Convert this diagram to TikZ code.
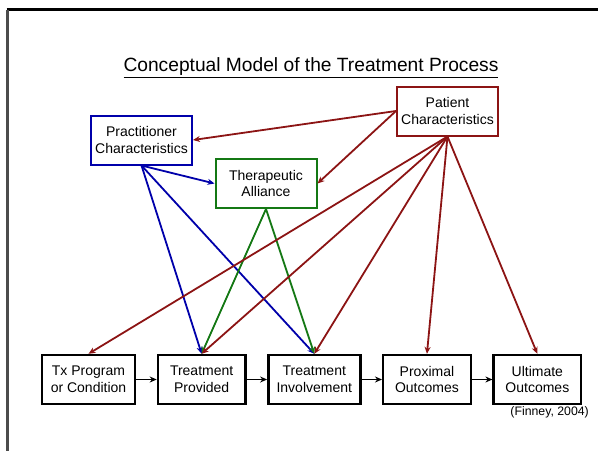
\documentclass[tikz,border=0pt]{standalone}
\usepackage{fontspec}
\setmainfont{Liberation Sans}
\usepackage{xcolor}
\usepackage{tikz}
\usetikzlibrary{positioning, arrows.meta, calc}
\definecolor{patColor}{RGB}{140,20,20}
\definecolor{pracColor}{RGB}{0,0,170}
\definecolor{allyColor}{RGB}{20,120,20}
\tikzset{
    stagebox/.style={
        rectangle,
        draw,
        line width=2.4pt,
        fill=white,
        minimum height=49pt,
        inner sep=2pt,
        align=center,
        font=\fontsize{14}{16.7}\selectfont
    },
    topbox/.style={
        stagebox,
        line width=2pt,
        minimum width=101pt
    },
    arr/.style={
        -{Stealth[length=7pt,width=6pt]},
        line width=1.8pt
    }
}

\begin{document}
\begin{tikzpicture}[x=1pt, y=-1pt, node distance=20.5pt]
        \useasboundingbox (0,0) rectangle (598,451);
        \draw[line width=2.2pt] (6.5,9.5) -- (598,9.5);
        \draw[line width=2.2pt, black!70] (7.5,9.5) -- (7.5,451);

        \node (title) at (311,68) {\fontsize{19.2}{23}\selectfont\underline{Conceptual Model of the Treatment Process}};

        \node[topbox, draw=pracColor] (prac) at (141.5,140) {Practitioner\\Characteristics};
        \node[topbox, draw=patColor] (pat) at (447.5,111) {Patient\\Characteristics};
        \node[topbox, draw=allyColor] (ally) at (266,183.5) {Therapeutic\\Alliance};

        \node[stagebox, minimum width=93pt] (tx) at (88.5,379.5) {Tx Program\\or Condition};
        \node[stagebox, minimum width=87.5pt, right=of tx] (prov) {Treatment\\Provided};
        \node[stagebox, minimum width=92pt, right=of prov] (inv) {Treatment\\Involvement};
        \node[stagebox, minimum width=87.5pt, right=of inv] (prox) {Proximal\\Outcomes};
        \node[stagebox, minimum width=87.5pt, right=of prox] (ult) {Ultimate\\Outcomes};
        \node[anchor=east, inner sep=0pt, font=\fontsize{12.3}{14}\selectfont] (cite) at (589,412) {(Finney, 2004)};

        \draw[arr] (tx) -- (prov);
        \draw[arr] (prov) -- (inv);
        \draw[arr] (inv) -- (prox);
        \draw[arr] (prox) -- (ult);

        % practitioner
        \draw[arr, pracColor] (prac.south) -- (ally.west);
        \draw[arr, pracColor] (prac.south) -- (prov.north);
        \draw[arr, pracColor] (prac.south) -- (inv.north);

        % alliance
        \draw[arr, allyColor] (ally.south) -- (prov.north);
        \draw[arr, allyColor] (ally.south) -- (inv.north);

        % patient
        \draw[arr, patColor] (pat.west) -- (prac.east);
        \draw[arr, patColor] (pat.west) -- (ally.east);
        \draw[arr, patColor] (pat.south) -- (tx.north);
        \draw[arr, patColor] (pat.south) -- (prov.north);
        \draw[arr, patColor] (pat.south) -- (inv.north);
        \draw[arr, patColor] (pat.south) -- (prox.north);
        \draw[arr, patColor] (pat.south) -- (ult.north);
    \end{tikzpicture}
\end{document}
